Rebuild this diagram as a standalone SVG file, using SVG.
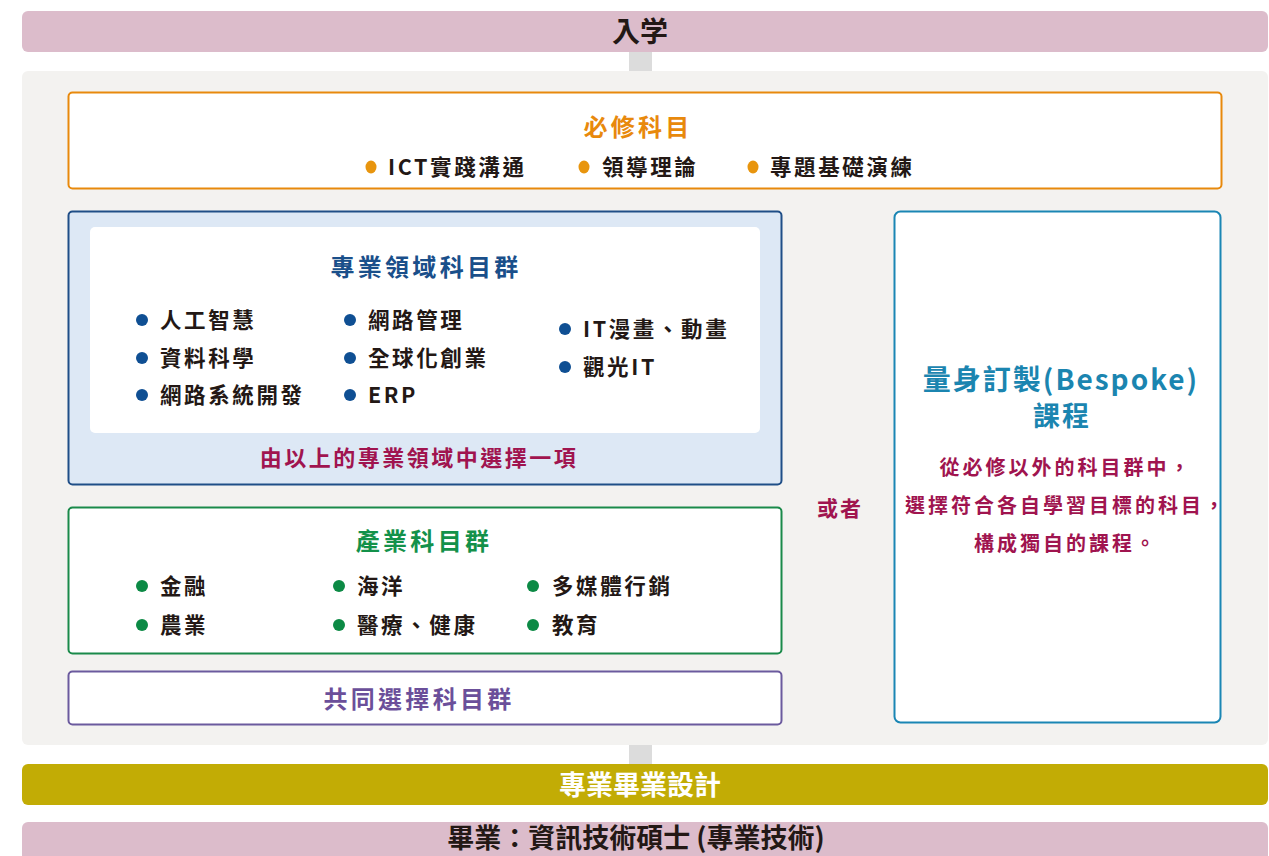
<svg xmlns="http://www.w3.org/2000/svg" width="1269" height="856" viewBox="0 0 1269 856">
<style>
text{font-family:"Noto Sans CJK TC","Noto Sans CJK JP",sans-serif;font-weight:bold}
.item{font-size:21.5px;fill:#231815;letter-spacing:2.6px}
.ttl{font-size:24px;letter-spacing:3.3px;text-anchor:middle}
.body{font-size:20px;fill:#a0144f;letter-spacing:3px;text-anchor:middle}
.ob{fill:#e8950e}.bb{fill:#0f4f93}.gb{fill:#0c8a45}
</style>
<rect width="1269" height="856" fill="#ffffff"/>
<g id="connectors">
<rect x="629" y="52" width="23" height="20" fill="#dcdcdc"/>
<rect x="629" y="745" width="23" height="20" fill="#dcdcdc"/>
</g>
<g id="entry">
<rect x="22" y="11" width="1246" height="41" rx="6" fill="#dcbccb"/>
<text x="640" y="42" text-anchor="middle" font-size="28" fill="#231815" style="font-family:'Noto Sans CJK JP',sans-serif">入学</text>
</g>
<g id="panel">
<rect x="22" y="71" width="1246" height="674" rx="6" fill="#f3f2f0"/>
</g>
<g id="required">
<rect x="68.5" y="92.5" width="1153" height="96" rx="4" fill="#fff" stroke="#e8890c" stroke-width="2"/>
<text class="ttl" x="638" y="136" fill="#e8890c">必修科目</text>
<ellipse class="ob" cx="371" cy="167" rx="5.5" ry="6.5"/>
<text class="item" x="388" y="175">ICT實踐溝通</text>
<ellipse class="ob" cx="584" cy="167" rx="5.5" ry="6.5"/>
<text class="item" x="602" y="175">領導理論</text>
<ellipse class="ob" cx="753" cy="167" rx="5.5" ry="6.5"/>
<text class="item" x="770" y="175">專題基礎演練</text>
</g>
<g id="specialty">
<rect x="68.5" y="211.5" width="713" height="273" rx="4" fill="#dde8f5" stroke="#1f4e87" stroke-width="2"/>
<rect x="90" y="227" width="670" height="206" rx="5" fill="#fff"/>
<text class="ttl" x="426" y="276" fill="#1a4f8a" font-size="25">專業領域科目群</text>
<circle class="bb" cx="142" cy="320" r="6"/><text class="item" x="160" y="328">人工智慧</text>
<circle class="bb" cx="142" cy="358" r="6"/><text class="item" x="160" y="366">資料科學</text>
<circle class="bb" cx="142" cy="395" r="6"/><text class="item" x="160" y="403">網路系統開發</text>
<circle class="bb" cx="350" cy="320" r="6"/><text class="item" x="368" y="328">網路管理</text>
<circle class="bb" cx="350" cy="358" r="6"/><text class="item" x="368" y="366">全球化創業</text>
<circle class="bb" cx="350" cy="395" r="6"/><text class="item" x="368" y="403">ERP</text>
<circle class="bb" cx="565" cy="329" r="6"/><text class="item" x="583" y="337">IT漫畫、動畫</text>
<circle class="bb" cx="565" cy="367" r="6"/><text class="item" x="583" y="375">觀光IT</text>
<text x="419" y="466" text-anchor="middle" font-size="22" letter-spacing="2.5" fill="#a0144f">由以上的專業領域中選擇一項</text>
</g>
<g id="industry">
<rect x="68.5" y="507.5" width="713" height="146" rx="4" fill="#fff" stroke="#1a8a4a" stroke-width="2"/>
<text class="ttl" x="424" y="550" fill="#13914a">產業科目群</text>
<circle class="gb" cx="142" cy="586" r="6"/><text class="item" x="160" y="594">金融</text>
<circle class="gb" cx="142" cy="625" r="6"/><text class="item" x="160" y="633">農業</text>
<circle class="gb" cx="339" cy="586" r="6"/><text class="item" x="357" y="594">海洋</text>
<circle class="gb" cx="339" cy="625" r="6"/><text class="item" x="357" y="633">醫療、健康</text>
<circle class="gb" cx="533" cy="586" r="6"/><text class="item" x="552" y="594">多媒體行銷</text>
<circle class="gb" cx="533" cy="625" r="6"/><text class="item" x="552" y="633">教育</text>
</g>
<g id="common">
<rect x="68.5" y="671.5" width="713" height="53" rx="4" fill="#fff" stroke="#6b5a9e" stroke-width="2"/>
<text class="ttl" x="419" y="708" fill="#6b4f9a">共同選擇科目群</text>
</g>
<g id="or">
<text x="840" y="516" text-anchor="middle" font-size="21" letter-spacing="2" fill="#a0144f">或者</text>
</g>
<g id="bespoke">
<rect x="894.5" y="211.5" width="326" height="511" rx="6" fill="#fff" stroke="#1a86b4" stroke-width="2"/>
<text x="1061" y="390" text-anchor="middle" font-size="28" letter-spacing="2" fill="#1b85b0">量身訂製(Bespoke)</text>
<text x="1062" y="426" text-anchor="middle" font-size="27" letter-spacing="2" fill="#1b85b0">課程</text>
<text class="body" x="1066" y="475">從必修以外的科目群中，</text>
<text class="body" x="1066" y="513">選擇符合各自學習目標的科目，</text>
<text class="body" x="1066" y="551">構成獨自的課程。</text>
</g>
<g id="project">
<rect x="22" y="764" width="1246" height="41" rx="6" fill="#c2ac05"/>
<text x="640" y="795" text-anchor="middle" font-size="27" fill="#ffffff">專業畢業設計</text>
</g>
<g id="graduation">
<rect x="22" y="822" width="1246" height="50" rx="6" fill="#dcbccb"/>
<text x="636" y="848" text-anchor="middle" font-size="27" fill="#231815">畢業：資訊技術碩士 (專業技術)</text>
</g>
</svg>
